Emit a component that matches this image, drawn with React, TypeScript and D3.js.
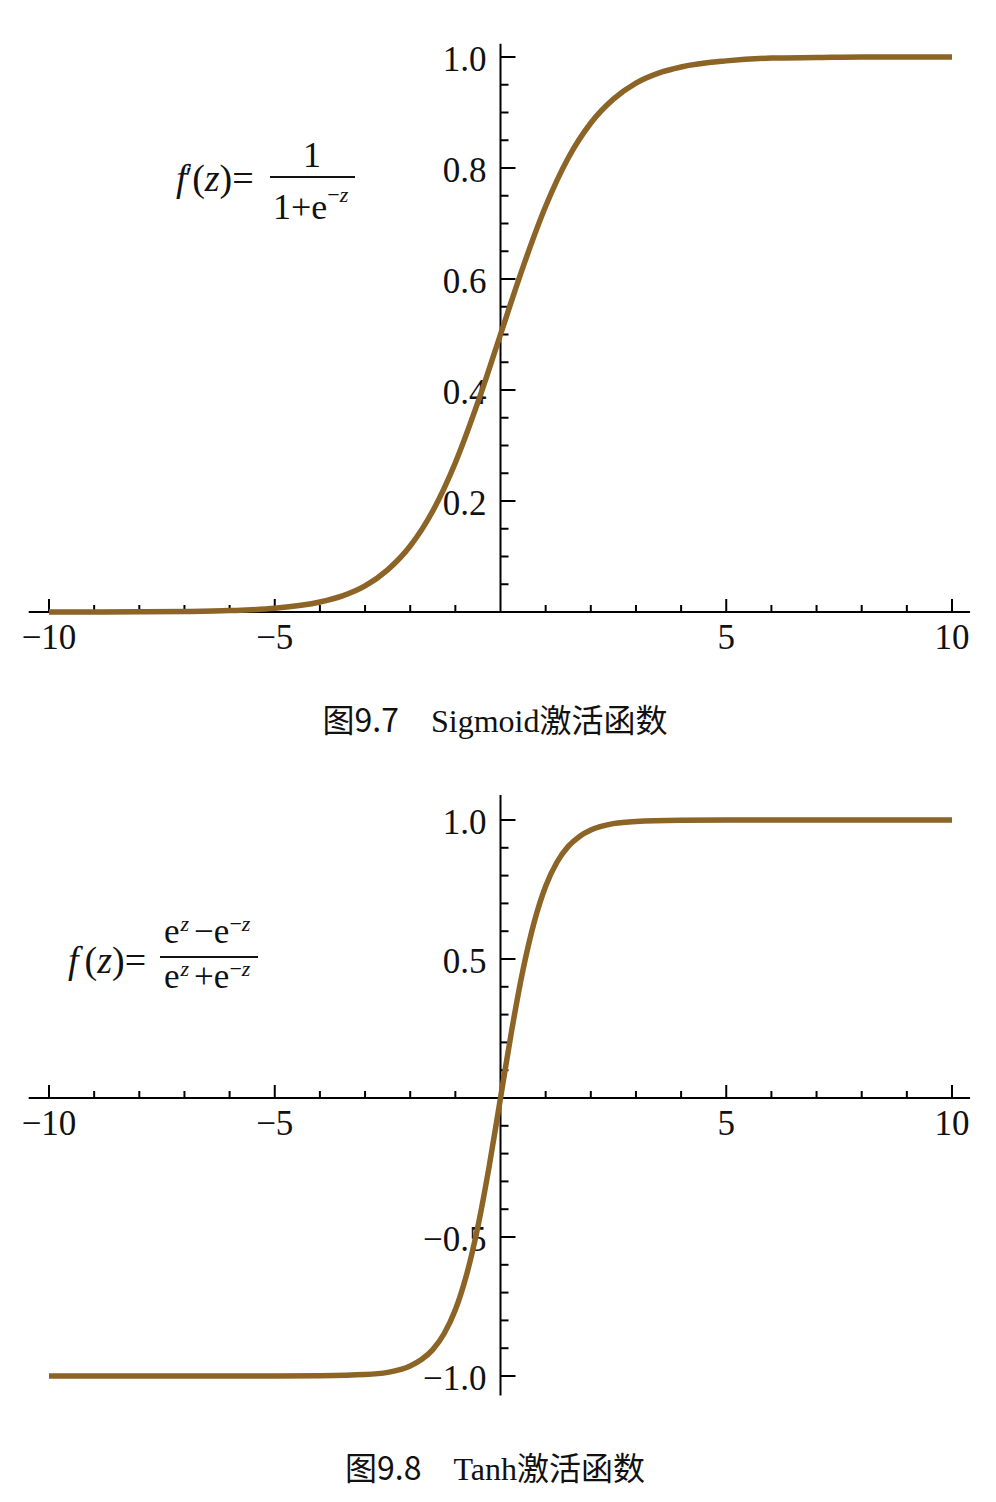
import React from 'react'
import * as d3 from 'd3'

// values
const sigmoidZ = [-10, -9, -8, -7, -6, -5, -4, -3.5, -3, -2.5, -2, -1.5, -1, -0.5, 0, 0.5, 1, 1.5, 2, 2.5, 3, 3.5, 4, 5, 6, 7, 8, 9, 10]
const sigmoidF = [0, 0.0001, 0.0003, 0.0009, 0.0025, 0.0067, 0.018, 0.029, 0.047, 0.076, 0.119, 0.182, 0.269, 0.378, 0.5, 0.622, 0.731, 0.818, 0.881, 0.924, 0.953, 0.971, 0.982, 0.993, 0.998, 0.999, 1, 1, 1]

const tanhZ = [-10, -8, -6, -5, -4, -3, -2.5, -2, -1.75, -1.5, -1.25, -1, -0.75, -0.5, -0.25, 0, 0.25, 0.5, 0.75, 1, 1.25, 1.5, 1.75, 2, 2.5, 3, 4, 5, 6, 8, 10]
const tanhF = [-1, -1, -1, -1, -0.999, -0.995, -0.987, -0.964, -0.941, -0.905, -0.848, -0.762, -0.635, -0.462, -0.245, 0, 0.245, 0.462, 0.635, 0.762, 0.848, 0.905, 0.941, 0.964, 0.987, 0.995, 0.999, 1, 1, 1, 1]

const xMajor = [-10, -5, 5, 10]
const xMajorLabels = ['\u221210', '\u22125', '5', '10']
const xMinor = [-9, -8, -7, -6, -4, -3, -2, -1, 1, 2, 3, 4, 6, 7, 8, 9]

const sigYMajor = [0.2, 0.4, 0.6, 0.8, 1.0]
const sigYLabels = ['0.2', '0.4', '0.6', '0.8', '1.0']
const sigYMinor = [0.05, 0.1, 0.15, 0.25, 0.3, 0.35, 0.45, 0.5, 0.55, 0.65, 0.7, 0.75, 0.85, 0.9, 0.95]

const tanhYMajor = [-1, -0.5, 0.5, 1]
const tanhYLabels = ['\u22121.0', '\u22120.5', '0.5', '1.0']
const tanhYMinor = [-0.9, -0.8, -0.7, -0.6, -0.4, -0.3, -0.2, -0.1, 0.1, 0.2, 0.3, 0.4, 0.6, 0.7, 0.8, 0.9]

const CURVE = '#8b6426'
const SERIF = '"Liberation Serif", "Times New Roman", serif'
const CJK = '"Noto Sans CJK SC", sans-serif'

type PanelProps = {
  xs: d3.ScaleLinear<number, number>
  ys: d3.ScaleLinear<number, number>
  yExtent: [number, number]
  z: number[]
  f: number[]
  yMajor: number[]
  yLabels: string[]
  yMinor: number[]
}

function Panel({ xs, ys, yExtent, z, f, yMajor, yLabels, yMinor }: PanelProps) {
  const x0 = xs(0)
  const y0 = ys(0)
  const line = d3.line<number>()
    .x((_, i) => xs(z[i]))
    .y(d => ys(d))
    .curve(d3.curveMonotoneX)

  return (
    <g>
      <line x1={xs(-10.45)} x2={xs(10.4)} y1={y0} y2={y0} stroke="#000" strokeWidth={2} />
      <line x1={x0} x2={x0} y1={ys(yExtent[1])} y2={ys(yExtent[0])} stroke="#000" strokeWidth={2} />
      {xMajor.map((t, i) => (
        <g key={`xm${i}`}>
          <line x1={xs(t)} x2={xs(t)} y1={y0} y2={y0 - 13} stroke="#000" strokeWidth={2} />
          <text x={xs(t)} y={y0 + 37} textAnchor="middle" fontSize={35} fontFamily={SERIF} fill="#111">{xMajorLabels[i]}</text>
        </g>
      ))}
      {xMinor.map((t, i) => (
        <line key={`xn${i}`} x1={xs(t)} x2={xs(t)} y1={y0} y2={y0 - 7} stroke="#000" strokeWidth={2} />
      ))}
      {yMajor.map((t, i) => (
        <g key={`ym${i}`}>
          <line x1={x0} x2={x0 + 15} y1={ys(t)} y2={ys(t)} stroke="#000" strokeWidth={2} />
          <text x={x0 - 14} y={ys(t) + 14} textAnchor="end" fontSize={35} fontFamily={SERIF} fill="#111">{yLabels[i]}</text>
        </g>
      ))}
      {yMinor.map((t, i) => (
        <line key={`yn${i}`} x1={x0} x2={x0 + 8} y1={ys(t)} y2={ys(t)} stroke="#000" strokeWidth={2} />
      ))}
      <path d={line(f) || ''} fill="none" stroke={CURVE} strokeWidth={5.5} strokeLinejoin="round" />
    </g>
  )
}

export default function App() {
  const xs = d3.scaleLinear().domain([-10, 10]).range([49, 952])
  const ysTop = d3.scaleLinear().domain([0, 1]).range([612, 57])
  const ysBottom = d3.scaleLinear().domain([-1, 1]).range([1376, 820])

  return (
    <svg width={996} height={1502} viewBox="0 0 996 1502" style={{ position: 'absolute', left: 0, top: 0, background: '#fff' }}>
      <rect width={996} height={1502} fill="#fff" />

      <Panel xs={xs} ys={ysTop} yExtent={[0, 1.024]} z={sigmoidZ} f={sigmoidF}
        yMajor={sigYMajor} yLabels={sigYLabels} yMinor={sigYMinor} />

      {/* sigmoid formula */}
      <g fontFamily={SERIF} fill="#111">
        <text x={176} y={191} fontSize={38}>
          <tspan fontStyle="italic">f</tspan>
          <tspan fontSize={30} dx={-1} dy={-4}>{'\u2032'}</tspan>
          <tspan dy={4}>(</tspan>
          <tspan fontStyle="italic">z</tspan>
          <tspan>)=</tspan>
        </text>
        <line x1={270} x2={355} y1={177} y2={177} stroke="#111" strokeWidth={2} />
        <text x={312} y={167} fontSize={36} textAnchor="middle">1</text>
        <text x={273} y={219} fontSize={36}>
          1+e
          <tspan fontSize={22} dy={-17}>{'\u2212'}</tspan>
          <tspan fontSize={22} fontStyle="italic">z</tspan>
        </text>
      </g>

      <text x={495} y={732} textAnchor="middle" fontSize={32} fill="#111">
        <tspan fontFamily={CJK}>{'图9.7\u3000'}</tspan>
        <tspan fontFamily={SERIF}>Sigmoid</tspan>
        <tspan fontFamily={CJK}>激活函数</tspan>
      </text>

      <Panel xs={xs} ys={ysBottom} yExtent={[-1.07, 1.09]} z={tanhZ} f={tanhF}
        yMajor={tanhYMajor} yLabels={tanhYLabels} yMinor={tanhYMinor} />

      {/* tanh formula */}
      <g fontFamily={SERIF} fill="#111">
        <text x={68} y={973} fontSize={38}>
          <tspan fontStyle="italic">f</tspan>
          <tspan dx={6}>(</tspan>
          <tspan fontStyle="italic">z</tspan>
          <tspan>)=</tspan>
        </text>
        <line x1={160} x2={258} y1={957} y2={957} stroke="#111" strokeWidth={2} />
        <text x={164} y={943} fontSize={35}>
          e
          <tspan fontSize={22} fontStyle="italic" dy={-12} dx={1}>z</tspan>
          <tspan dy={12} dx={5}>{'\u2212'}</tspan>
          <tspan>e</tspan>
          <tspan fontSize={22} dy={-12}>{'\u2212'}</tspan>
          <tspan fontSize={22} fontStyle="italic">z</tspan>
        </text>
        <text x={164} y={988} fontSize={35}>
          e
          <tspan fontSize={22} fontStyle="italic" dy={-12} dx={1}>z</tspan>
          <tspan dy={12} dx={5}>+</tspan>
          <tspan>e</tspan>
          <tspan fontSize={22} dy={-12}>{'\u2212'}</tspan>
          <tspan fontSize={22} fontStyle="italic">z</tspan>
        </text>
      </g>

      <text x={495} y={1480} textAnchor="middle" fontSize={32} fill="#111">
        <tspan fontFamily={CJK}>{'图9.8\u3000'}</tspan>
        <tspan fontFamily={SERIF}>Tanh</tspan>
        <tspan fontFamily={CJK}>激活函数</tspan>
      </text>
    </svg>
  )
}
